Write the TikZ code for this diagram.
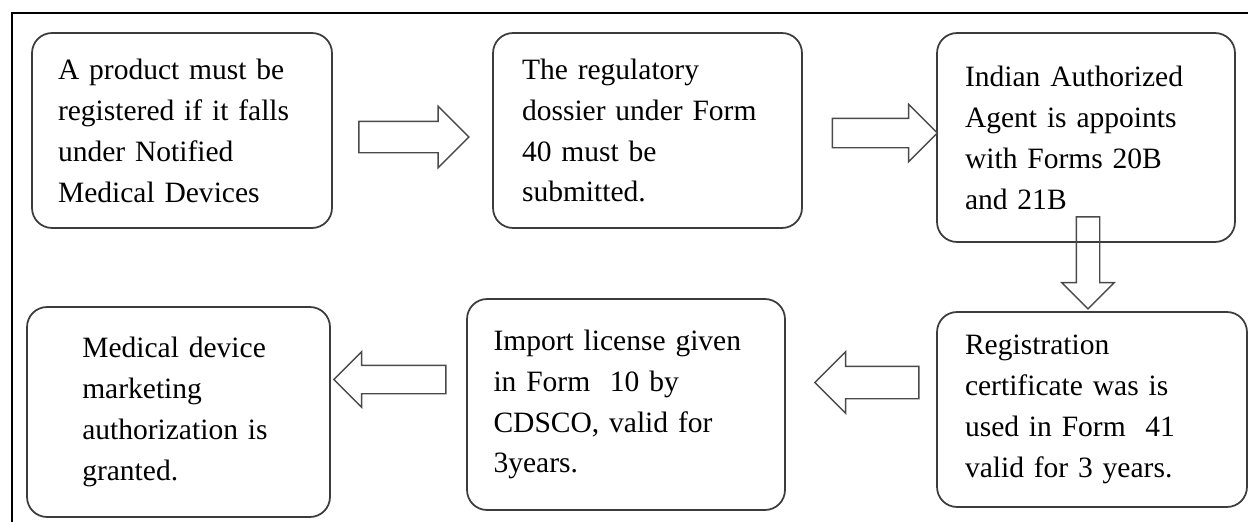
\documentclass[tikz,border=0pt]{standalone}
\usepackage{fontspec}
\setmainfont{Liberation Serif}
\usetikzlibrary{shapes.arrows}
\definecolor{boxline}{HTML}{3C3C3C}
\definecolor{arrowline}{HTML}{4A4A4A}
\definecolor{frameline}{HTML}{000000}
\begin{document}
\begin{tikzpicture}[x=0.02cm,y=-0.02cm,
  stepbox/.style={draw=boxline,line width=1pt,rounded corners=0.4cm,inner sep=0pt,align=left,font=\fontsize{16.8}{23.3}\selectfont},
  flowarrow/.style={single arrow,draw=arrowline,line width=0.8pt,inner xsep=0pt}]
  \useasboundingbox (0,0) rectangle (1248,521);
  % outer frame, only top and left edges are in view
  \draw[frameline,line width=1.7pt] (1250,13) -- (12,13) -- (12,523);
  % top row
  \node[stepbox,minimum width=6cm,minimum height=3.9cm,text width=4.96cm] (reg) at (182,130.5)
    {A product must be\\registered if it falls\\under Notified\\Medical Devices};
  \node[stepbox,minimum width=6.18cm,minimum height=3.9cm,text width=5.02cm] (dossier) at (647.5,130.5)
    {The regulatory\\dossier under Form\\40 must be\\submitted.};
  \node[stepbox,minimum width=5.96cm,minimum height=4.18cm,text width=4.84cm] (agent) at (1086,137.5)
    {Indian Authorized\\Agent is appoints\\with Forms 20B\\and 21B};
  % bottom row
  \node[stepbox,minimum width=6.2cm,minimum height=3.9cm,text width=5.08cm] (cert) at (1092,409.5)
    {Registration\\certificate was is\\used in Form~ 41\\valid for 3 years.};
  \node[stepbox,minimum width=6.36cm,minimum height=4.22cm,text width=5.3cm] (license) at (626,404.5)
    {Import license given\\in Form~ 10 by\\CDSCO, valid for\\3years.};
  \node[stepbox,minimum width=6.06cm,minimum height=4.2cm,text width=3.85cm] (granted) at (178.5,412)
    {Medical device\\marketing\\authorization is\\granted.};
  % block arrows
  \node[flowarrow,minimum height=2.2cm,inner ysep=0.3cm,single arrow head extend=0.3cm] (a1) at (406,137) {};
  \node[flowarrow,minimum height=2.1cm,inner ysep=0.28cm,single arrow head extend=0.28cm] (a2) at (877.5,133) {};
  \node[flowarrow,rotate=-90,minimum height=1.84cm,inner ysep=0.22cm,single arrow head extend=0.29cm] (a3) at (1088,257) {};
  \node[flowarrow,rotate=180,minimum height=2.08cm,inner ysep=0.31cm,single arrow head extend=0.29cm] (a4) at (875,382.5) {};
  \node[flowarrow,rotate=180,minimum height=2.24cm,inner ysep=0.27cm,single arrow head extend=0.27cm] (a5) at (397,379.5) {};
\end{tikzpicture}
\end{document}
